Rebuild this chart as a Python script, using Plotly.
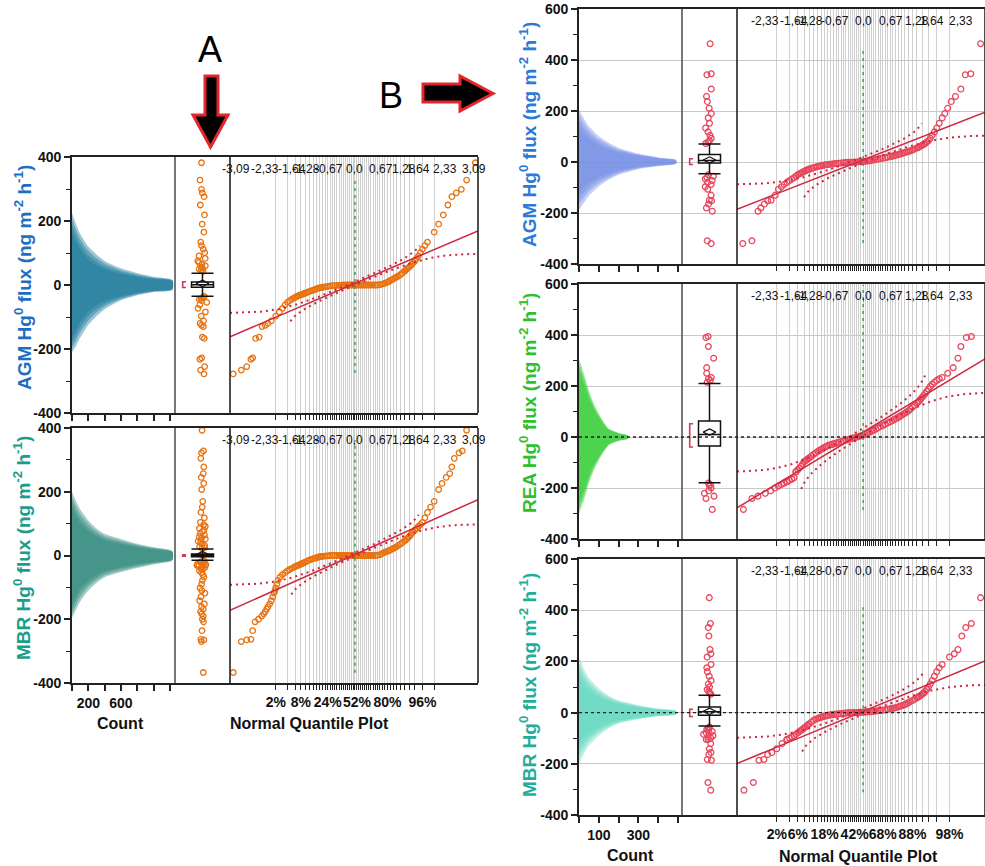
import plotly.graph_objects as go
from statistics import NormalDist

ND = NormalDist()
W, H = 985, 866

# ======================= DATA =======================
# Normal quantile plot samples: plotting position (%) and Hg0 flux (ng m-2 h-1)
agm_a_pct = [0.08, 0.16, 0.25, 0.35, 0.40, 0.5, 0.65, 0.8, 1.0, 1.2, 1.5, 2, 2.5,
             3, 4, 5, 6, 7, 8, 9, 10, 12, 14, 16, 18, 20, 23, 26, 30, 34, 38, 42, 46, 50,
             54, 58, 62, 66, 70, 74, 77, 80, 82, 84, 86, 88, 90, 91, 92, 93, 94, 95, 96, 97,
             98, 98.5, 98.9, 99.2, 99.4, 99.57, 99.71, 99.81, 99.91]
agm_a_flux = [-278, -266, -255, -232, -228, -167, -163, -130, -126, -120, -112, -97, -84,
              -73, -54, -45, -39, -34, -31, -28, -25, -20, -16, -12, -9, -7, -5, -3, -2, -1, 0, 0, 0, 0,
              0, 0, 0, 0, 0, 1, 4, 9, 14, 19, 25, 32, 43, 50, 56, 65, 75, 91, 112, 134,
              165, 190, 219, 250, 276, 288, 299, 328, 382]

mbr_a_pct = [0.08, 0.16, 0.25, 0.35, 0.40, 0.48, 0.62, 0.78, 0.9, 1.0, 1.1, 1.2, 1.35, 1.5, 1.65,
             1.8, 1.9, 2.0, 2.15, 2.3, 2.6,
             3, 4, 5, 6, 7, 8, 9, 10, 12, 14, 16, 18, 20, 23, 26, 30, 34, 38, 42, 46, 50,
             54, 58, 62, 66, 70, 74, 77, 80, 82, 84, 86, 88, 90, 91, 92, 93, 94, 95, 96, 97,
             97.5, 98, 98.5, 98.8, 99.1, 99.3, 99.4, 99.5, 99.65, 99.73, 99.81]
mbr_a_flux = [-367, -270, -265, -263, -236, -208, -200, -190, -183, -176, -168, -161, -152, -142, -130,
              -118, -110, -102, -90, -78, -68,
              -60, -48, -41, -35, -31, -27, -24, -20, -14, -10, -7, -4, -3, -1, 0, 0, 0, 0, 0, 0, 0,
              0, 0, 0, 0, 0, 2, 8, 13, 17, 22, 28, 36, 45, 52, 59, 70, 80, 91, 104, 135,
              152, 170, 207, 226, 245, 257, 278, 305, 322, 328, 393]

agm_b_pct = [0.21, 0.41, 0.62, 0.75, 0.94, 1.16, 1.43, 1.83, 2.2, 2.6,
             3, 4, 5, 6, 7, 8, 9, 10, 12, 14, 16, 18, 20, 23, 26, 30, 34, 38, 42, 46, 50,
             54, 58, 62, 66, 70, 74, 77, 80, 82, 84, 86, 88, 90, 91, 92, 93, 94, 95, 96, 97,
             97.4, 97.8, 98.2, 98.6, 99.0, 99.25, 99.48, 99.74]
agm_b_flux = [-320, -309, -193, -180, -165, -152, -150, -130, -107, -97,
              -88, -73, -62, -50, -43, -37, -32, -28, -22, -18, -15, -12, -10, -8, -6, -4, -2, -1, 0, 1, 2,
              4, 7, 10, 14, 17, 21, 25, 29, 33, 37, 41, 47, 55, 60, 66, 73, 83, 105, 133, 173,
              190, 211, 237, 257, 286, 342, 346, 464]

rea_b_pct = [0.22, 0.41, 0.62, 1.0, 1.4, 1.8, 2.2, 2.6, 3, 3.5, 4, 4.5, 5, 5.5, 6, 7, 8, 9, 10,
             12, 14, 16, 18, 20, 23, 26, 30, 34, 38, 42, 46, 50, 54, 58, 62, 66, 70, 74, 77,
             80, 82, 84, 86, 88, 90, 91, 92, 93, 94, 95, 96, 97, 97.8, 98.4, 98.8, 99.0, 99.3, 99.5]
rea_b_flux = [-284, -241, -232, -221, -211, -200, -192, -186, -181, -175, -170, -165, -160, -136, -128,
              -115, -97, -89, -82, -68, -57, -48, -40, -34, -29, -24, -18, -13, -8, -3, 2, 7, 15, 23,
              31, 41, 50, 60, 68, 77, 85, 93, 103, 117, 133, 142, 156, 170, 188, 207, 222, 233,
              250, 272, 309, 355, 390, 394]

mbr_b_pct = [0.23, 0.45, 0.66, 0.91, 1.16, 1.5, 2.0, 2.7, 3.5,
             4, 5, 6, 7, 8, 9, 10, 12, 14, 16, 18, 20, 23, 26, 30, 34, 38, 42, 46, 50,
             54, 58, 62, 66, 70, 74, 77, 80, 82, 84, 86, 88, 90, 91, 92, 93, 94, 95, 96, 97,
             98, 98.5, 98.8, 99.06, 99.27, 99.5, 99.74]
mbr_b_flux = [-303, -273, -186, -183, -164, -156, -141, -121, -105,
              -99, -90, -79, -69, -60, -52, -44, -30, -23, -18, -14, -11, -8, -6, -4, -2, -1, 0, 1, 2,
              3, 4, 6, 8, 11, 15, 18, 23, 27, 32, 39, 47, 58, 64, 72, 82, 100, 125, 160, 188,
              217, 230, 246, 299, 332, 348, 449]

# Additional samples read between the positions above (same plotting-position list for all panels)
fill_pct = [11, 13, 15, 17, 19, 21.5, 24.5, 28, 32, 36, 40, 44, 48, 52, 56, 60, 64, 68, 72, 75.5,
            78.5, 81, 83, 85, 87, 89,
            3.5, 4.5, 5.5, 6.5, 7.5, 8.5, 9.5, 90.5, 91.5, 92.5, 93.5, 94.5, 95.5, 96.5]
agm_a_fill = [-22, -18, -14, -10, -8, -6, -4, -2, -1, -1, 0, 0, 0, 0, 0, 0, 0, 0, 0, 2,
              6, 11, 16, 22, 28, 37,
              -62, -49, -42, -36, -32, -29, -26, 46, 53, 60, 70, 83, 101, 123]
mbr_a_fill = [-17, -12, -8, -5, -3, -2, -1, 0, 0, 0, 0, 0, 0, 0, 0, 0, 0, 0, 1, 5,
              11, 15, 20, 25, 32, 40,
              -54, -44, -38, -33, -29, -25, -22, 48, 55, 64, 75, 85, 97, 118]
agm_b_fill = [-25, -20, -16, -13, -11, -9, -7, -5, -3, -1, -1, 0, 1, 3, 5, 8, 12, 15, 19, 23,
              27, 31, 35, 39, 44, 51,
              -80, -67, -56, -46, -40, -34, -30, 57, 63, 69, 78, 93, 118, 152]
rea_b_fill = [-75, -62, -52, -44, -37, -31, -26, -21, -15, -10, -5, 0, 5, 11, 19, 27, 36, 45, 55, 64,
              73, 81, 89, 98, 110, 125,
              -175, -165, -136, -122, -106, -93, -85, 137, 149, 163, 179, 198, 215, 228]
mbr_b_fill = [-37, -26, -20, -16, -12, -9, -7, -5, -3, -1, 0, 0, 1, 2, 3, 5, 7, 9, 13, 16,
              20, 25, 29, 35, 43, 52,
              -105, -95, -85, -74, -65, -56, -48, 61, 68, 77, 90, 112, 142, 175]

# Outlier box plot: q1, median, q3, lower whisker, upper whisker, mean
agm_a_box = [-7, 1, 9, -35, 37, 5]
mbr_a_box = [-4, 0, 5, -15, 20, 3]
agm_b_box = [-4, 6, 29, -46, 71, 8]
rea_b_box = [-35, 10, 63, -179, 210, 19]
mbr_b_box = [-10, 3, 22, -52, 68, 5]

# Shortest half bracket (low, high)
agm_a_short = [-8, 10]
mbr_a_short = [-2, 2]
agm_b_short = [-10, 13]
rea_b_short = [-39, 52]
mbr_b_short = [-15, 13]

# Normal fit: mean, sd, Lilliefors half-width
agm_a_fit = [5, 51.5, 0.036]
mbr_a_fit = [3, 54, 0.039]
agm_b_fit = [8, 64.5, 0.068]
rea_b_fit = [19, 99, 0.058]
mbr_b_fit = [5, 68, 0.063]

# Vertical reference line span in the quantile plots
agm_a_ref = [-275, 334]
mbr_a_ref = [-368, 362]
agm_b_ref = [-318, 447]
rea_b_ref = [-286, 596]
mbr_b_ref = [-311, 427]

# Shadowgram layers: count levels and flux envelopes (outer -> inner)
a_counts = [0, 50, 100, 200, 300, 400, 600, 800, 1000, 1230]
agm_a_hi = [[225, 190, 160, 120, 95, 75, 52, 37, 26, 16],
            [205, 172, 144, 107, 84, 67, 46, 33, 23, 15],
            [185, 153, 128, 93, 73, 58, 41, 29, 21, 13],
            [165, 135, 112, 80, 62, 50, 35, 25, 18, 12]]
agm_a_lo = [[-210, -190, -165, -125, -98, -76, -48, -32, -22, -16],
            [-195, -173, -148, -111, -86, -67, -44, -30, -21, -15],
            [-180, -157, -132, -96, -75, -59, -39, -27, -19, -13],
            [-165, -140, -115, -82, -63, -50, -35, -25, -18, -12]]
mbr_a_hi = [[200, 170, 145, 110, 85, 68, 52, 37, 26, 14],
            [183, 154, 130, 99, 77, 61, 46, 33, 24, 13],
            [167, 138, 115, 87, 68, 54, 41, 30, 21, 11],
            [150, 122, 100, 76, 60, 48, 35, 26, 19, 10]]
mbr_a_lo = [[-195, -170, -145, -110, -86, -68, -52, -39, -28, -16],
            [-182, -155, -131, -99, -78, -62, -47, -35, -25, -15],
            [-168, -140, -116, -89, -70, -55, -41, -31, -23, -13],
            [-155, -125, -102, -78, -61, -49, -36, -27, -20, -12]]
b_counts = [0, 25, 50, 100, 150, 200, 300, 400, 490]
agm_b_hi = [[206, 170, 140, 101, 75, 55, 33, 18, 9],
            [184, 151, 124, 89, 67, 49, 30, 17, 8],
            [162, 131, 108, 78, 58, 44, 27, 15, 7],
            [140, 112, 92, 66, 50, 38, 24, 14, 6]]
agm_b_lo = [[-187, -160, -132, -96, -70, -50, -28, -17, -7],
            [-165, -140, -115, -84, -62, -45, -25, -15, -6],
            [-144, -120, -99, -72, -54, -39, -23, -14, -6],
            [-122, -100, -82, -60, -46, -34, -20, -12, -5]]
rea_counts = [0, 25, 50, 75, 100, 125, 150, 200, 247]
rea_b_hi = [[308, 249, 183, 131, 92, 59, 33, 16, 7],
            [293, 234, 172, 123, 86, 55, 31, 15, 6],
            [277, 220, 161, 114, 81, 52, 29, 14, 6],
            [262, 205, 150, 106, 75, 48, 27, 13, 5]]
rea_b_lo = [[-301, -249, -183, -131, -92, -59, -33, -16, -7],
            [-286, -234, -172, -123, -86, -55, -31, -15, -6],
            [-270, -220, -161, -114, -81, -52, -29, -14, -6],
            [-255, -205, -150, -106, -75, -48, -27, -13, -5]]
mbr_b_hi = [[217, 170, 135, 94, 66, 48, 29, 16, 7],
            [191, 149, 119, 83, 59, 43, 26, 14, 6],
            [165, 129, 102, 71, 51, 38, 23, 12, 6],
            [139, 108, 86, 60, 44, 33, 20, 11, 5]]
mbr_b_lo = [[-199, -160, -128, -89, -62, -43, -26, -14, -7],
            [-172, -139, -111, -78, -55, -39, -23, -13, -6],
            [-146, -117, -95, -67, -48, -34, -21, -11, -6],
            [-121, -96, -78, -56, -41, -30, -18, -10, -5]]

# Tick labels
count_ticks_a = [0, 200, 400, 600, 800, 1000, 1200]
count_labels_a = ['', '200', '', '600', '', '', '']
count_ticks_b = [0, 100, 200, 300, 400, 500]
count_labels_b = ['', '100', '', '300', '', '']
pct_grid = list(range(2, 100, 2))
pct_labels_a = [2, 8, 24, 52, 80, 96]
pct_labels_b = [2, 6, 18, 42, 68, 88, 98]
z_labels = [-3.09, -2.33, -1.64, -1.28, -0.67, 0.0, 0.67, 1.28, 1.64, 2.33, 3.09]

# ======================= LAYOUT GEOMETRY =======================
GEOM_A = dict(cols=(72, 175, 230, 478), zrange=(-3.24, 3.19), crange=(0, 1262),
              cticks=count_ticks_a, clabels=count_labels_a, plabels=pct_labels_a,
              yt=[-400, -200, 0, 200, 400], ym=[-300, -100, 100, 300], yrange=(-400, 400),
              grid=False, pcolor='#e8720f', msize=5.5)
GEOM_B = dict(cols=(579, 682, 737, 985), zrange=(-3.0, 2.9), crange=(0, 520),
              cticks=count_ticks_b, clabels=count_labels_b, plabels=pct_labels_b,
              yt=[-400, -200, 0, 200, 400, 600], ym=[-300, -100, 100, 300, 500], yrange=(-400, 600),
              grid=True, pcolor='#e8475c', msize=5.8)

panels = [
    dict(g=GEOM_A, rows=(157, 413), bottom=False, title='AGM', tcolor='#1e6fc4', tpos=(23, 278),
         pct=agm_a_pct + fill_pct, flux=agm_a_flux + agm_a_fill, box=agm_a_box, short=agm_a_short,
         fit=agm_a_fit, ref=agm_a_ref, counts=a_counts, hi=agm_a_hi, lo=agm_a_lo,
         shade='24,120,152', zero=False),
    dict(g=GEOM_A, rows=(428, 683), bottom=True, title='MBR', tcolor='#1a9e8c', tpos=(22, 548),
         pct=mbr_a_pct + fill_pct, flux=mbr_a_flux + mbr_a_fill, box=mbr_a_box, short=mbr_a_short,
         fit=mbr_a_fit, ref=mbr_a_ref, counts=a_counts, hi=mbr_a_hi, lo=mbr_a_lo,
         shade='45,135,125', zero=False),
    dict(g=GEOM_B, rows=(9, 264), bottom=False, title='AGM', tcolor='#2b7bd6', tpos=(528, 135),
         pct=agm_b_pct + fill_pct, flux=agm_b_flux + agm_b_fill, box=agm_b_box, short=agm_b_short,
         fit=agm_b_fit, ref=agm_b_ref, counts=b_counts, hi=agm_b_hi, lo=agm_b_lo,
         shade='115,140,228', zero=False),
    dict(g=GEOM_B, rows=(284, 539), bottom=False, title='REA', tcolor='#2fbf2f', tpos=(528, 403),
         pct=rea_b_pct + fill_pct, flux=rea_b_flux + rea_b_fill, box=rea_b_box, short=rea_b_short,
         fit=rea_b_fit, ref=rea_b_ref, counts=rea_counts, hi=rea_b_hi, lo=rea_b_lo,
         shade='55,205,55', zero=True),
    dict(g=GEOM_B, rows=(559, 815), bottom=True, title='MBR', tcolor='#1fae9a', tpos=(528, 685),
         pct=mbr_b_pct + fill_pct, flux=mbr_b_flux + mbr_b_fill, box=mbr_b_box, short=mbr_b_short,
         fit=mbr_b_fit, ref=mbr_b_ref, counts=b_counts, hi=mbr_b_hi, lo=mbr_b_lo,
         shade='95,215,190', zero=True),
]


def xname(n):
    return 'x' if n == 1 else f'x{n}'


def yname(n):
    return 'y' if n == 1 else f'y{n}'


def xkey(n):
    return 'xaxis' if n == 1 else f'xaxis{n}'


def ykey(n):
    return 'yaxis' if n == 1 else f'yaxis{n}'


def zfmt(z):
    return '0,0' if z == 0 else f'{z:.2f}'.replace('.', ',')


LINE = '#222222'
TICKFONT = dict(family='Arial', size=14, color='#111111', weight='bold')

fig = go.Figure()
layout = dict(width=W, height=H, margin=dict(l=0, r=0, t=0, b=0, autoexpand=False),
              paper_bgcolor='white', plot_bgcolor='white', showlegend=False, boxmode='overlay')
shapes, annots = [], []

for i, P in enumerate(panels):
    g = P['g']
    hx, bx, qx, yy = 3 * i + 1, 3 * i + 2, 3 * i + 3, i + 1
    c0, c1, c2, c3 = g['cols']
    yt_px, yb_px = P['rows']
    ydom = [1 - yb_px / H, 1 - yt_px / H]

    # ---- axes ----
    layout[ykey(yy)] = dict(domain=ydom, range=list(g['yrange']), anchor=xname(hx), automargin=False,
                            showline=True, linecolor=LINE, linewidth=1.6, mirror=False,
                            ticks='outside', ticklen=6, tickwidth=1.5, tickcolor=LINE,
                            tickvals=g['yt'], ticktext=[str(v) for v in g['yt']], tickfont=TICKFONT,
                            minor=dict(tickvals=g['ym'], ticks='outside', ticklen=4, tickwidth=1.3,
                                       tickcolor=LINE, showgrid=False),
                            showgrid=g['grid'], gridcolor='#c8c8c8', gridwidth=1, zeroline=False)
    layout[xkey(hx)] = dict(domain=[c0 / W, c1 / W], range=list(g['crange']), anchor=yname(yy),
                            automargin=False,
                            showline=True, linecolor=LINE, linewidth=1.6, mirror=True,
                            ticks='outside', ticklen=6, tickwidth=1.5, tickcolor=LINE,
                            tickvals=g['cticks'],
                            ticktext=g['clabels'] if P['bottom'] else [''] * len(g['cticks']),
                            tickfont=TICKFONT, tickangle=0, showgrid=False, zeroline=False)
    layout[xkey(bx)] = dict(domain=[c1 / W, c2 / W], range=[-1, 1], anchor=yname(yy), type='linear',
                            automargin=False,
                            showline=True, linecolor=LINE, linewidth=1.6, mirror=True,
                            showticklabels=False, ticks='', showgrid=False, zeroline=False)
    zgrid = [ND.inv_cdf(p / 100) for p in pct_grid]
    layout[xkey(qx)] = dict(domain=[c2 / W, c3 / W], range=list(g['zrange']), anchor=yname(yy),
                            automargin=False,
                            showline=True, linecolor=LINE, linewidth=1.6, mirror=True,
                            ticks='outside', ticklen=5, tickwidth=1, tickcolor=LINE,
                            tickvals=zgrid,
                            ticktext=[(f'{p}%' if (P['bottom'] and p in g['plabels']) else '')
                                      for p in pct_grid],
                            tickfont=TICKFONT, tickangle=0,
                            showgrid=True, gridcolor='#cfcfcf', gridwidth=1, zeroline=False)

    # column separators and right border
    for cx, col in ((c1, '#555555'), (c2, LINE), (c3, LINE)):
        shapes.append(dict(type='line', xref='paper', yref='paper', x0=cx / W, x1=cx / W,
                           y0=ydom[0], y1=ydom[1], layer='above', line=dict(color=col, width=1.6)))

    # ---- shadowgram ----
    for hi, lo in zip(P['hi'], P['lo']):
        cnt = P['counts']
        fig.add_trace(go.Scatter(x=cnt + cnt[::-1], y=hi + lo[::-1], fill='toself',
                                 fillcolor=f"rgba({P['shade']},0.42)", mode='lines',
                                 line=dict(width=0, shape='spline', smoothing=0.6),
                                 hoverinfo='skip', xaxis=xname(hx), yaxis=yname(yy)))

    # ---- box column ----
    q1, med, q3, lf, uf, mean = P['box']
    outl = [v for v in P['flux'] if v > uf or v < lf]
    pc = g['pcolor']
    fig.add_trace(go.Box(y=outl, x0=0, boxpoints='all', jitter=0.55, pointpos=0, width=0.8,
                         fillcolor='rgba(0,0,0,0)', line=dict(width=0, color='rgba(0,0,0,0)'),
                         marker=dict(symbol='circle-open', size=g['msize'], color=pc,
                                     line=dict(width=1.3, color=pc)),
                         hoverinfo='skip', xaxis=xname(bx), yaxis=yname(yy)))
    fig.add_trace(go.Box(x=[0], q1=[q1], median=[med], q3=[q3], lowerfence=[lf], upperfence=[uf],
                         orientation='v', width=0.8, whiskerwidth=1, boxpoints=False,
                         fillcolor='white', line=dict(color='#111111', width=1.5),
                         hoverinfo='skip', xaxis=xname(bx), yaxis=yname(yy)))
    fig.add_trace(go.Scatter(x=[0], y=[mean], mode='markers',
                             marker=dict(symbol='diamond-wide-open', size=9, color='#111111',
                                         line=dict(width=1.2, color='#111111')),
                             hoverinfo='skip', xaxis=xname(bx), yaxis=yname(yy)))
    s_lo, s_hi = P['short']
    fig.add_trace(go.Scatter(x=[-0.6, -0.72, -0.72, -0.6], y=[s_hi, s_hi, s_lo, s_lo], mode='lines',
                             line=dict(color='#d63a52', width=1.6), hoverinfo='skip',
                             xaxis=xname(bx), yaxis=yname(yy)))

    # ---- normal quantile plot ----
    zs = [ND.inv_cdf(p / 100) for p in P['pct']]
    fig.add_trace(go.Scatter(x=zs, y=P['flux'], mode='markers',
                             marker=dict(symbol='circle-open', size=g['msize'], color=pc,
                                         line=dict(width=1.3, color=pc)),
                             hoverinfo='skip', xaxis=xname(qx), yaxis=yname(yy)))
    m, s, d = P['fit']
    z0, z1 = g['zrange']
    fig.add_trace(go.Scatter(x=[z0, z1], y=[m + s * z0, m + s * z1], mode='lines',
                             line=dict(color='#d0263f', width=1.5), hoverinfo='skip',
                             xaxis=xname(qx), yaxis=yname(yy)))
    n = 260
    zz = [z0 + (z1 - z0) * k / (n - 1) for k in range(n)]
    ux, uy, lx, ly = [], [], [], []
    for z in zz:
        p = ND.cdf(z)
        if p + d < 0.99:
            ux.append(z); uy.append(m + s * ND.inv_cdf(p + d))
        if p - d > 0.01:
            lx.append(z); ly.append(m + s * ND.inv_cdf(p - d))
    for cx, cy in ((ux, uy), (lx, ly)):
        fig.add_trace(go.Scatter(x=cx, y=cy, mode='lines',
                                 line=dict(color='#d0263f', width=2, dash='2px,4px'),
                                 hoverinfo='skip', xaxis=xname(qx), yaxis=yname(yy)))

    # green reference line at z = 0
    shapes.append(dict(type='line', xref=xname(qx), yref=yname(yy), x0=0, x1=0,
                       y0=P['ref'][0], y1=P['ref'][1],
                       line=dict(color='#3f9f4f', width=1.5, dash='3px,4px')))
    if P['zero']:
        shapes.append(dict(type='line', xref='paper', yref=yname(yy), x0=c0 / W, x1=c3 / W,
                           y0=0, y1=0, layer='above',
                           line=dict(color='#222222', width=1.3, dash='3px,3px')))

    # z-value labels along top of the quantile plot
    for z in z_labels:
        if z0 <= z <= z1:
            annots.append(dict(x=z, xref=xname(qx), y=1, yref=f'{yname(yy)} domain',
                               xanchor='center', yanchor='top', yshift=-3, text=zfmt(z),
                               showarrow=False,
                               font=dict(family='Liberation Sans Narrow, Arial Narrow, Arial',
                                         size=12, color='#111111')))

    # y-axis title
    tx, ty = P['tpos']
    annots.append(dict(x=tx / W, y=1 - ty / H, xref='paper', yref='paper', textangle=-90,
                       xanchor='center', yanchor='middle',
                       text=f"<b>{P['title']} Hg<sup>0</sup> flux (ng m<sup>-2</sup> h<sup>-1</sup>)</b>",
                       showarrow=False, font=dict(family='Arial', size=19, color=P['tcolor'])))

# bottom axis titles
for txt, x, y in (('Count', 120, 723), ('Normal Quantile Plot', 309, 723),
                  ('Count', 630, 855), ('Normal Quantile Plot', 858, 856)):
    annots.append(dict(x=x / W, y=1 - y / H, xref='paper', yref='paper', text=f'<b>{txt}</b>',
                       xanchor='center', yanchor='middle',
                       showarrow=False, font=dict(family='Arial', size=16, color='#111111')))

# panel letters
for txt, x, y in (('A', 210, 50), ('B', 391, 96)):
    annots.append(dict(x=x / W, y=1 - y / H, xref='paper', yref='paper', text=txt,
                       xanchor='center', yanchor='middle',
                       showarrow=False, font=dict(family='Arial', size=36, color='#000000')))


def px_path(pts):
    s = ' '.join(('M' if k == 0 else 'L') + f' {x / W:.5f},{1 - y / H:.5f}' for k, (x, y) in enumerate(pts))
    return s + ' Z'


arrow_a = [(205, 76), (218, 76), (218, 115), (228, 115), (210.5, 147), (193, 115), (205, 115)]
arrow_b = [(423, 84), (460, 84), (460, 76), (493, 93.5), (460, 111), (460, 102), (423, 102)]
for pts in (arrow_a, arrow_b):
    shapes.append(dict(type='path', xref='paper', yref='paper', path=px_path(pts),
                       fillcolor='#000000', line=dict(color='#e3262b', width=3)))

layout['shapes'] = shapes
layout['annotations'] = annots
fig.update_layout(**layout)
fig.write_html('out.html', config={'displayModeBar': False},
               post_script="document.body.style.margin='0px';document.body.style.overflow='hidden';")
